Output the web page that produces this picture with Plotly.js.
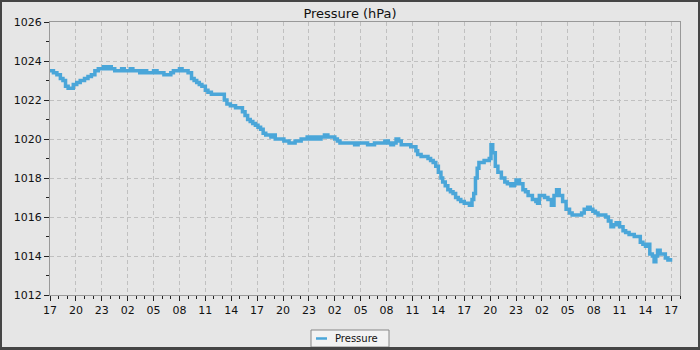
<!DOCTYPE html>
<html>
<head>
<meta charset="utf-8">
<script src="https://cdn.plot.ly/plotly-3.0.1.min.js"></script>
<style>
  html, body { margin: 0; padding: 0; background: #e6e6e6; }
  #frame { position: absolute; left: 0; top: 0; width: 700px; height: 350px; background: #454545; }
  #chart { position: absolute; left: 2px; top: 2px; width: 696px; height: 345px; background: #e6e6e6;
           box-shadow: inset -1px -1px 0 #f6f6f6; }
</style>
</head>
<body>
<div id="frame"><div id="chart"></div></div>
<script>
// Hours elapsed since 17:00 of the first day
const hours = [
  0.0,0.4,0.8,1.2,1.5,1.8,2.1,2.4,2.7,3.1,3.5,4.0,4.4,4.8,5.2,5.6,6.2,6.5,6.8,7.1,
  7.5,8.0,8.3,8.6,9.0,9.3,9.6,10.0,10.4,10.8,11.2,11.6,12.0,12.4,12.8,13.2,13.6,14.0,14.3,14.7,
  15.0,15.3,15.6,16.0,16.4,16.7,17.0,17.3,17.6,18.0,18.3,18.7,19.1,19.5,19.9,20.2,20.5,20.9,21.2,21.5,
  22.0,22.3,22.6,22.9,23.2,23.5,23.8,24.1,24.4,24.7,25.0,25.3,25.6,25.8,26.1,26.4,26.8,27.1,27.4,27.7,
  28.0,28.4,28.8,29.1,29.4,29.8,30.2,30.6,31.0,31.4,31.8,32.2,32.6,33.0,33.3,33.6,34.0,34.5,35.0,35.3,
  35.7,36.0,36.4,36.8,37.2,37.6,38.0,38.4,38.8,39.2,39.5,39.8,40.1,40.4,40.7,41.1,41.5,41.8,42.1,42.4,
  42.6,43.0,43.4,43.8,44.1,44.4,44.7,45.0,45.3,45.5,45.8,46.1,46.4,46.7,47.0,47.3,47.6,48.0,48.3,48.6,
  48.9,49.1,49.3,49.5,49.7,50.0,50.3,50.6,50.9,51.1,51.3,51.6,51.9,52.3,52.7,53.0,53.4,53.8,54.0,54.4,
  54.8,55.1,55.4,55.9,56.3,56.5,56.7,57.0,57.3,57.7,58.1,58.4,58.7,59.0,59.4,59.8,60.2,60.5,60.8,61.2,
  61.6,61.9,62.3,62.6,62.9,63.2,63.5,63.8,64.1,64.4,64.7,65.0,65.3,65.6,66.0,66.4,66.7,67.1,67.4,67.7,
  68.1,68.4,68.7,69.0,69.3,69.5,69.8,70.0,70.2,70.4,70.7,71.0,71.3,71.6,71.9
];
const pressure = [
  1023.5,1023.4,1023.3,1023.1,1023.0,1022.7,1022.6,1022.6,1022.8,1022.9,1023.0,1023.1,1023.2,1023.3,1023.5,1023.6,1023.7,1023.6,1023.7,1023.6,
  1023.5,1023.5,1023.6,1023.5,1023.5,1023.6,1023.5,1023.5,1023.4,1023.5,1023.4,1023.4,1023.5,1023.4,1023.4,1023.3,1023.3,1023.4,1023.5,1023.5,
  1023.6,1023.5,1023.5,1023.4,1023.1,1023.0,1022.9,1022.8,1022.7,1022.5,1022.4,1022.3,1022.3,1022.3,1022.3,1022.0,1021.8,1021.7,1021.7,1021.6,
  1021.6,1021.4,1021.2,1021.0,1020.9,1020.8,1020.7,1020.6,1020.5,1020.3,1020.2,1020.2,1020.1,1020.2,1020.0,1020.0,1020.0,1019.9,1019.9,1019.8,
  1019.8,1019.9,1019.9,1020.0,1020.0,1020.1,1020.0,1020.1,1020.0,1020.1,1020.2,1020.1,1020.1,1020.0,1019.9,1019.8,1019.8,1019.8,1019.8,1019.7,
  1019.8,1019.8,1019.8,1019.7,1019.7,1019.8,1019.8,1019.8,1019.9,1019.8,1019.7,1019.8,1020.0,1019.9,1019.7,1019.7,1019.7,1019.6,1019.6,1019.4,
  1019.2,1019.1,1019.1,1019.0,1018.9,1018.8,1018.6,1018.3,1018.0,1017.8,1017.6,1017.4,1017.3,1017.2,1017.0,1016.9,1016.8,1016.7,1016.7,1016.6,
  1016.9,1017.2,1018.0,1018.5,1018.8,1018.8,1018.9,1018.9,1019.0,1019.7,1019.3,1018.6,1018.3,1018.0,1017.8,1017.7,1017.6,1017.7,1017.9,1017.7,
  1017.4,1017.3,1017.1,1016.9,1016.8,1016.7,1017.1,1017.1,1017.0,1016.9,1016.6,1017.1,1017.4,1017.1,1016.8,1016.4,1016.2,1016.1,1016.1,1016.1,
  1016.2,1016.4,1016.5,1016.4,1016.3,1016.2,1016.1,1016.1,1016.1,1016.0,1015.8,1015.5,1015.6,1015.7,1015.5,1015.3,1015.2,1015.1,1015.1,1015.0,
  1015.0,1014.7,1014.6,1014.5,1014.6,1014.1,1014.0,1013.7,1014.0,1014.3,1014.1,1014.1,1013.9,1013.8,1013.9
];
// Tick labels (clock hour), one every 3 hours starting at 17:00
const xTickLabels = ["17","20","23","02","05","08","11","14","17","20","23","02","05","08","11","14","17","20","23","02","05","08","11","14","17"];
const yTickValues = [1012,1014,1016,1018,1020,1022,1024,1026];
const seriesName = "Pressure";
const seriesColor = "#4aa6d9";

const tickStep = 3;
const xTickVals = xTickLabels.map((_, i) => i * tickStep);

const font = "DejaVu Sans, sans-serif";

const trace = {
  x: hours,
  y: pressure,
  type: "scatter",
  mode: "lines",
  name: seriesName,
  line: { color: seriesColor, width: 3.5, shape: "hv" }
};

// legend box geometry (paper coordinates, below the plot area)
const legendBox = { x0: 0.4143, x1: 0.5381, y0: -0.1905, y1: -0.1282 };
const legendMidY = -0.1593;

const layout = {
  width: 696,
  height: 345,
  margin: { l: 48, r: 18, t: 20, b: 52 },
  paper_bgcolor: "#e6e6e6",
  plot_bgcolor: "#e6e6e6",
  font: { family: font, size: 11, color: "#111" },
  title: { text: "Pressure (hPa)", font: { family: font, size: 13, color: "#111" }, x: 0.5, xanchor: "center", y: 0.98, yanchor: "top", yref: "container" },
  showlegend: false,
  shapes: [
    { type: "rect", xref: "paper", yref: "paper", x0: legendBox.x0, x1: legendBox.x1, y0: legendBox.y0, y1: legendBox.y1,
      fillcolor: "#f2f2f2", line: { color: "#888", width: 1 }, layer: "above" },
    { type: "line", xref: "paper", yref: "paper", x0: 0.4222, x1: 0.4397, y0: legendMidY, y1: legendMidY,
      line: { color: seriesColor, width: 2.5 }, layer: "above" }
  ],
  annotations: [{
    text: seriesName,
    xref: "paper", yref: "paper",
    x: 0.4492, y: legendMidY, xanchor: "left", yanchor: "middle",
    showarrow: false,
    font: { family: font, size: 10, color: "#111" }
  }],
  xaxis: {
    range: [0, 73],
    tickmode: "array",
    tickvals: xTickVals,
    ticktext: xTickLabels,
    ticks: "outside", ticklen: 5, tickcolor: "#222", tickwidth: 1,
    minor: { dtick: 1, tick0: 0, ticks: "outside", ticklen: 3, tickcolor: "#222", showgrid: false },
    showline: true, linecolor: "#999", linewidth: 1, mirror: true,
    showgrid: true, gridcolor: "#c0c0c0", gridwidth: 1, griddash: "4px,3px",
    zeroline: false,
    tickfont: { family: font, size: 11, color: "#111" }
  },
  yaxis: {
    range: [1012, 1026],
    tickmode: "array",
    tickvals: yTickValues,
    ticks: "outside", ticklen: 5, tickcolor: "#222", tickwidth: 1,
    minor: { dtick: 1, tick0: 1012, ticks: "outside", ticklen: 3, tickcolor: "#222", showgrid: false },
    showline: true, linecolor: "#999", linewidth: 1, mirror: true,
    showgrid: true, gridcolor: "#c0c0c0", gridwidth: 1, griddash: "4px,3px",
    zeroline: false,
    tickfont: { family: font, size: 11, color: "#111" }
  }
};

Plotly.newPlot("chart", [trace], layout, { displayModeBar: false, staticPlot: true });
</script>
</body>
</html>
